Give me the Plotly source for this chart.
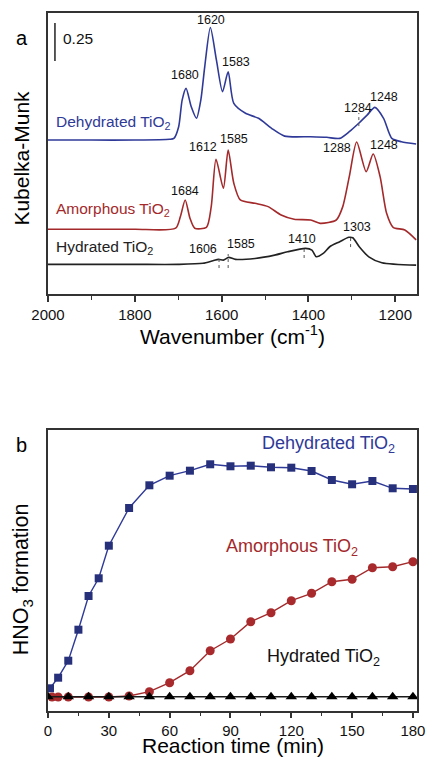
import plotly.graph_objects as go

# ---------------- Panel a: DRIFT spectra (Kubelka-Munk, relative to own baseline) ----------------
WN_DEHYD = [2000, 1900, 1800, 1720, 1710, 1699, 1691, 1682, 1670, 1658, 1648, 1639, 1626, 1612,
            1598, 1585, 1572, 1545, 1515, 1485, 1455, 1395, 1358, 1328, 1306, 1283, 1265, 1247,
            1227, 1208, 1186, 1152]
KM_DEHYD = [0.0, 0.0, 0.0, 0.005, 0.011, 0.088, 0.263, 0.340, 0.219, 0.143, 0.263, 0.482, 0.741, 0.526,
            0.318, 0.449, 0.241, 0.176, 0.143, 0.077, 0.026, 0.022, 0.018, 0.011, 0.055, 0.114, 0.164, 0.215,
            0.143, 0.011, -0.011, -0.026]

WN_AMORPH = [2000, 1900, 1800, 1706, 1695, 1684, 1673, 1662, 1635, 1624, 1613, 1596, 1585, 1572,
             1557, 1523, 1493, 1463, 1433, 1395, 1373, 1336, 1321, 1306, 1289, 1267, 1251, 1235,
             1220, 1205, 1178, 1152]
KM_AMORPH = [0.0, 0.0, 0.0, 0.007, 0.084, 0.193, 0.073, 0.007, 0.013, 0.149, 0.461, 0.270, 0.522, 0.303,
             0.193, 0.171, 0.149, 0.094, 0.066, 0.061, 0.039, 0.061, 0.149, 0.346, 0.574, 0.379, 0.495, 0.346,
             0.105, 0.013, -0.005, -0.07]

WN_HYD = [2000, 1900, 1800, 1700, 1643, 1620, 1607, 1596, 1584, 1568, 1523, 1478, 1448, 1407,
          1392, 1382, 1366, 1351, 1328, 1307, 1298, 1283, 1261, 1231, 1152]
KM_HYD = [0.0, 0.0, 0.0, 0.0, 0.007, 0.024, 0.033, 0.028, 0.046, 0.033, 0.039, 0.061, 0.083, 0.105,
          0.094, 0.050, 0.072, 0.116, 0.149, 0.178, 0.175, 0.116, 0.050, 0.011, -0.005]

SERIES_NAMES = ["Dehydrated TiO<sub>2</sub>", "Amorphous TiO<sub>2</sub>", "Hydrated TiO<sub>2</sub>"]
PEAKS_DEHYD = [1680, 1620, 1583, 1284, 1248]
PEAKS_AMORPH = [1684, 1612, 1585, 1288, 1248]
PEAKS_HYD = [1606, 1585, 1410, 1303]
SCALE_BAR = 0.25

# ---------------- Panel b: HNO3 formation vs time ----------------
T_DEHYD = [1, 5, 10, 15, 20, 25, 30, 40, 50, 60, 70, 80, 90, 100, 110, 120, 130, 140, 150, 160, 170, 180]
HNO3_DEHYD = [22.7, 33.3, 50.3, 81.3, 115, 132.7, 165.3, 203, 225.7, 235.3, 240.3, 246.7, 244.7, 245.3,
              243.7, 243.3, 240, 231, 226.7, 230, 222.7, 222]
T_AMORPH = [2, 5, 10, 20, 30, 40, 50, 60, 70, 80, 90, 100, 110, 120, 130, 140, 150, 160, 170, 180]
HNO3_AMORPH = [14, 14, 14, 14, 14, 15, 19.3, 28.3, 40.3, 60.3, 72, 89.3, 98.3, 110.3, 117.7, 129.3,
               131.7, 143.3, 144.3, 149.3]
T_HYD = [0, 10, 20, 30, 40, 50, 60, 70, 80, 90, 100, 110, 120, 130, 140, 150, 160, 170, 180]
HNO3_HYD = [14.3] * 19

BLUE = "#2f3a98"
BLUE_M = "#27307a"
RED = "#a3292b"
RED_M = "#a82a2c"
BLACK = "#1a1a1a"
AXC = "#333333"
FONT = "Liberation Sans, Arial, sans-serif"

# offsets for stacking spectra
OFF = [1.013, 0.426, 0.195]

fig = go.Figure()
for wn, km, off, col in [(WN_DEHYD, KM_DEHYD, OFF[0], BLUE), (WN_AMORPH, KM_AMORPH, OFF[1], RED),
                         (WN_HYD, KM_HYD, OFF[2], "#222222")]:
    fig.add_trace(go.Scatter(x=wn, y=[v + off for v in km], mode="lines",
                             line=dict(color=col, width=1.6, shape="spline", smoothing=0.7),
                             xaxis="x", yaxis="y", showlegend=False, hoverinfo="skip"))

fig.add_trace(go.Scatter(x=T_DEHYD, y=HNO3_DEHYD, mode="lines+markers",
                         line=dict(color=BLUE, width=1.4),
                         marker=dict(symbol="square", size=8, color=BLUE_M),
                         xaxis="x2", yaxis="y2", showlegend=False))
fig.add_trace(go.Scatter(x=T_AMORPH, y=HNO3_AMORPH, mode="lines+markers",
                         line=dict(color=RED, width=1.4),
                         marker=dict(symbol="circle", size=9, color=RED_M),
                         xaxis="x2", yaxis="y2", showlegend=False))
fig.add_trace(go.Scatter(x=T_HYD, y=HNO3_HYD, mode="lines+markers",
                         line=dict(color=BLACK, width=1.4),
                         marker=dict(symbol="triangle-up", size=10, color="#000000"),
                         xaxis="x2", yaxis="y2", showlegend=False))

annotations = []
shapes = []

# peak labels (x shift in px, y in data units)
peak_layout = [
    (PEAKS_DEHYD, [-2, -2, 7, -1, 10], [1.441, 1.803, 1.526, 1.226, 1.298]),
    (PEAKS_AMORPH, [0, -13, 6, -20, 10], [0.680, 0.967, 1.018, 0.959, 0.980]),
    (PEAKS_HYD, [-16, 13, -2, 6], [0.294, 0.329, 0.362, 0.439]),
]
for peaks, shifts, ys in peak_layout:
    for p, sx, yy in zip(peaks, shifts, ys):
        annotations.append(dict(x=p, y=yy, xref="x", yref="y", text=str(p), showarrow=False,
                                xanchor="center", yanchor="middle",
                                xshift=sx, font=dict(size=12.5, color="#111111", family=FONT)))

# dotted guide lines
for p, y0, y1 in [(PEAKS_DEHYD[3], 1.105, 1.191), (PEAKS_HYD[0], 0.171, 0.250), (PEAKS_HYD[1], 0.171, 0.263),
                  (PEAKS_HYD[2], 0.237, 0.303), (PEAKS_HYD[3], 0.309, 0.375)]:
    shapes.append(dict(type="line", xref="x", yref="y", x0=p, x1=p, y0=y0, y1=y1,
                       line=dict(color="#555555", width=1, dash="dot")))

# scale bar
shapes.append(dict(type="line", xref="x", yref="y", x0=1984, x1=1984, y0=1.533, y1=1.533 + SCALE_BAR,
                   line=dict(color="#222222", width=1.5)))
annotations.append(dict(x=1971, y=1.684, xref="x", yref="y", text=str(SCALE_BAR), showarrow=False,
                        xanchor="left", yanchor="middle", font=dict(size=15.5, color="#111111", family=FONT)))

# series labels panel a
for name, col, yy in zip(SERIES_NAMES, [BLUE, RED, "#222222"], [1.127, 0.553, 0.307]):
    annotations.append(dict(x=1987, y=yy, xref="x", yref="y", text=name, showarrow=False,
                            xanchor="left", yanchor="middle",
                            font=dict(size=15.5, color=col, family=FONT)))

# series labels panel b
for name, col, tx, yy in zip(SERIES_NAMES, [BLUE, RED, "#111111"], [138.3, 120.5, 135.9], [266, 163, 53]):
    annotations.append(dict(x=tx, y=yy, xref="x2", yref="y2", text=name, showarrow=False,
                            xanchor="center", yanchor="middle",
                            font=dict(size=18, color=col, family=FONT)))

# panel letters and axis titles
def paper_text(x, y, text, size, angle=0):
    return dict(x=x, y=y, xref="paper", yref="paper", text=text, showarrow=False, textangle=angle,
                xanchor="center", yanchor="middle", font=dict(size=size, color="#000", family=FONT))

annotations += [
    paper_text(-0.0716, 0.964, "a", 20),
    paper_text(-0.072, 0.792, "Kubelka-Munk", 21, -90),
    paper_text(0.4987, 0.5387, "Wavenumber (cm<sup>-1</sup>)", 21),
    paper_text(-0.072, 0.381, "b", 20),
    paper_text(-0.070, 0.189, "HNO<sub>3</sub> formation", 21.5, -90),
    paper_text(0.50, -0.0501, "Reaction time (min)", 21),
]

ax_common = dict(showgrid=False, zeroline=False, showline=True, mirror=True, linecolor=AXC, linewidth=1.5)
fig.update_layout(
    width=435, height=760, autosize=False,
    margin=dict(l=48, r=10, t=13, b=49),
    paper_bgcolor="white", plot_bgcolor="white",
    font=dict(family=FONT, color="#000"),
    xaxis=dict(domain=[0, 1], anchor="y", range=[2000, 1150], dtick=200, tick0=0,
               ticks="outside", ticklen=6, tickwidth=1.5, tickcolor=AXC,
               minor=dict(ticks="outside", ticklen=4, dtick=100, tick0=0, tickcolor=AXC, tickwidth=1.2),
               tickfont=dict(size=15, color="#111"), **ax_common),
    yaxis=dict(domain=[0.5974, 1.0], anchor="x", range=[0, 1.849], showticklabels=False, ticks="",
               **ax_common),
    xaxis2=dict(domain=[0, 1], anchor="y2", range=[0, 182], dtick=30, tick0=0,
                ticks="outside", ticklen=5, tickwidth=1.5, tickcolor=AXC,
                minor=dict(ticks="outside", ticklen=3, dtick=15, tick0=0, tickcolor=AXC, tickwidth=1.2),
                tickfont=dict(size=15, color="#111"), **ax_common),
    yaxis2=dict(domain=[0, 0.4026], anchor="x2", range=[0, 281], showticklabels=False, ticks="",
                **ax_common),
    annotations=annotations,
    shapes=shapes,
)

# remove the browser's default 8px body margin so the 435x760 figure fills the window exactly
fig.write_html("out.html", config={"displayModeBar": False},
               post_script="document.body.style.margin='0';document.body.style.overflow='hidden';")
